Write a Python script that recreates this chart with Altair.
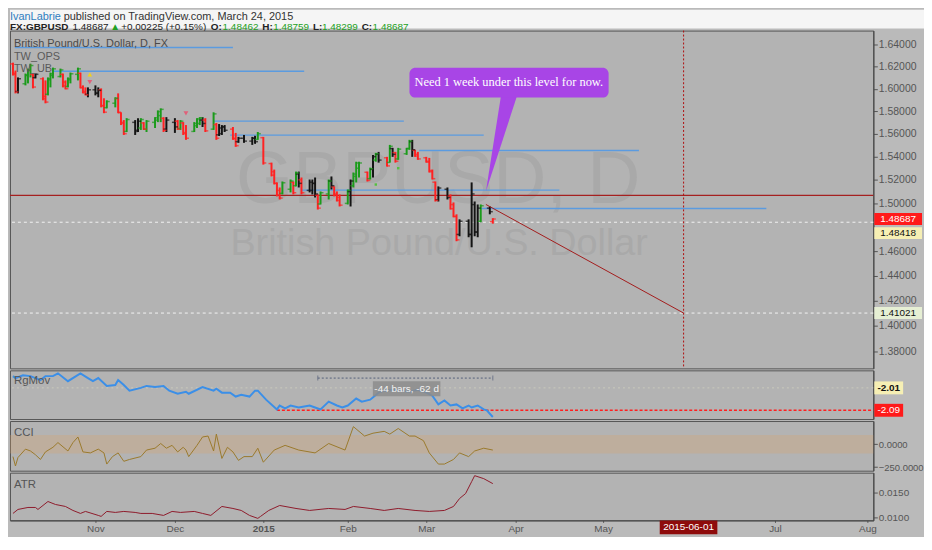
import altair as alt
import pandas as pd

FONT = "Liberation Sans"
W = 869
H_HEAD, H_MAIN, H_RG, H_CCI, H_ATR = 19, 340, 49, 50, 48
INK = "#4f4f4f"

# ---------------- daily OHLC bars, FX:GBPUSD ----------------
bar_kind = ("RRKGGGRKRR" "GGGGRRGGGR" "RRKKKRRGGR" "RRGKKGRGGG" "GRKKRGRRGG" "GKRGRK"
            "KKRRKKKKGR" "RRRRGGRGKRK" "KKRGGKRRRGKGGGR" "GKGKRGKRGGGKRRRRRRKKRRRKKKKKGKR")
bar_high = [
    1.6236, 1.6164, 1.6102, 1.6137, 1.6182, 1.6227, 1.6137, 1.6137, 1.6102, 1.6075,
    1.6102, 1.6146, 1.6191, 1.6182, 1.6137, 1.6075, 1.6102, 1.6146, 1.6191, 1.6146,
    1.6030, 1.6012, 1.6012, 1.6030, 1.6012, 1.6003, 1.5914, 1.5896, 1.5923, 1.5958,
    1.5789, 1.5720, 1.5737, 1.5720, 1.5737, 1.5737, 1.5702, 1.5720, 1.5746, 1.5806,
    1.5824, 1.5746, 1.5746, 1.5737, 1.5720, 1.5720, 1.5702, 1.5676, 1.5702, 1.5737,
    1.5746, 1.5746, 1.5737, 1.5789, 1.5694, 1.5685,
    1.5676, 1.5676, 1.5659, 1.5607, 1.5572, 1.5589, 1.5572, 1.5581, 1.5615, 1.5572,
    1.5348, 1.5288, 1.5178, 1.5135, 1.5186, 1.5203, 1.5186, 1.5271, 1.5271, 1.5220, 1.5203,
    1.5203, 1.5220, 1.5076, 1.5101, 1.5203, 1.5229, 1.5144, 1.5101, 1.5076, 1.5118, 1.5203, 1.5263, 1.5356, 1.5356, 1.5271,
    1.5305, 1.5415, 1.5433, 1.5441, 1.5398, 1.5502, 1.5476, 1.5441, 1.5476, 1.5476,
    1.5546, 1.5546, 1.5459, 1.5441, 1.5398, 1.5389, 1.5288, 1.5186, 1.5144, 1.5135,
    1.5076, 1.5008, 1.4908, 1.4866, 1.4866, 1.5178, 1.5016, 1.4991, 1.4991, 1.4974, 1.48759,
]
bar_low = [
    1.6119, 1.5958, 1.5958, 1.6030, 1.6048, 1.6102, 1.6003, 1.6093, 1.5896, 1.5869,
    1.5940, 1.6012, 1.6093, 1.6102, 1.6012, 1.5994, 1.6012, 1.6048, 1.6075, 1.6003,
    1.5958, 1.5940, 1.5923, 1.5940, 1.5923, 1.5833, 1.5781, 1.5824, 1.5833, 1.5781,
    1.5676, 1.5589, 1.5615, 1.5589, 1.5615, 1.5633, 1.5633, 1.5615, 1.5650, 1.5702,
    1.5702, 1.5615, 1.5615, 1.5607, 1.5633, 1.5633, 1.5589, 1.5546, 1.5615, 1.5650,
    1.5676, 1.5659, 1.5615, 1.5633, 1.5546, 1.5580,
    1.5589, 1.5615, 1.5546, 1.5485, 1.5520, 1.5520, 1.5502, 1.5511, 1.5546, 1.5331,
    1.5229, 1.5161, 1.5059, 1.5033, 1.5076, 1.5093, 1.5076, 1.5144, 1.5135, 1.5076, 1.5093,
    1.5076, 1.5050, 1.4948, 1.4991, 1.5033, 1.5118, 1.5059, 1.5016, 1.4974, 1.4991, 1.4974, 1.5135, 1.5178, 1.5220, 1.5186,
    1.5203, 1.5220, 1.5356, 1.5348, 1.5314, 1.5348, 1.5398, 1.5348, 1.5372, 1.5415,
    1.5459, 1.5398, 1.5398, 1.5372, 1.5348, 1.5263, 1.5203, 1.5016, 1.5016, 1.5033,
    1.4948, 1.4883, 1.4684, 1.4725, 1.4717, 1.4634, 1.4725, 1.4717, 1.4842, 1.4908, 1.48299,
]
bar_open = [
    1.6225, 1.6140, 1.5975, 1.6045, 1.6120, 1.6165, 1.6128, 1.6100, 1.6090, 1.5930,
    1.5950, 1.6080, 1.6120, 1.6110, 1.6130, 1.6060, 1.6020, 1.6080, 1.6130, 1.6140,
    1.6010, 1.5975, 1.5950, 1.5990, 1.5960, 1.5990, 1.5850, 1.5830, 1.5870, 1.5910,
    1.5785, 1.5700, 1.5620, 1.5700, 1.5630, 1.5650, 1.5695, 1.5640, 1.5700, 1.5720,
    1.5760, 1.5735, 1.5640, 1.5700, 1.5710, 1.5645, 1.5695, 1.5610, 1.5620, 1.5670,
    1.5690, 1.5720, 1.5720, 1.5640, 1.5680, 1.5590,
    1.5600, 1.5660, 1.5640, 1.5560, 1.5530, 1.5560, 1.5535, 1.5560, 1.5550, 1.5565,
    1.5340, 1.5270, 1.5170, 1.5110, 1.5085, 1.5120, 1.5180, 1.5150, 1.5250, 1.5200, 1.5110,
    1.5110, 1.5170, 1.5070, 1.4995, 1.5080, 1.5190, 1.5140, 1.5080, 1.5050, 1.5000, 1.5100, 1.5150, 1.5230, 1.5300, 1.5265,
    1.5210, 1.5290, 1.5370, 1.5420, 1.5390, 1.5350, 1.5470, 1.5435, 1.5380, 1.5425,
    1.5470, 1.5530, 1.5455, 1.5420, 1.5390, 1.5360, 1.5280, 1.5180, 1.5030, 1.5120,
    1.5060, 1.4990, 1.4890, 1.4740, 1.4850, 1.4740, 1.4990, 1.4760, 1.4850, 1.4960, 1.48462,
]
bar_close = [
    1.6130, 1.5970, 1.6090, 1.6125, 1.6170, 1.6210, 1.6015, 1.6130, 1.5910, 1.5880,
    1.6090, 1.6135, 1.6180, 1.6170, 1.6025, 1.6000, 1.6090, 1.6135, 1.6180, 1.6010,
    1.5965, 1.5945, 1.5990, 1.5960, 1.5985, 1.5845, 1.5790, 1.5885, 1.5915, 1.5790,
    1.5690, 1.5600, 1.5725, 1.5620, 1.5710, 1.5725, 1.5640, 1.5710, 1.5740, 1.5795,
    1.5815, 1.5630, 1.5720, 1.5660, 1.5640, 1.5710, 1.5600, 1.5560, 1.5690, 1.5730,
    1.5740, 1.5690, 1.5625, 1.5775, 1.5560, 1.5650,
    1.5660, 1.5630, 1.5555, 1.5495, 1.5560, 1.5535, 1.5560, 1.5530, 1.5600, 1.5345,
    1.5240, 1.5170, 1.5070, 1.5045, 1.5175, 1.5190, 1.5090, 1.5260, 1.5170, 1.5090, 1.5180,
    1.5170, 1.5080, 1.4960, 1.5090, 1.5190, 1.5150, 1.5070, 1.5025, 1.4985, 1.5110, 1.5190, 1.5250, 1.5345, 1.5345, 1.5195,
    1.5295, 1.5400, 1.5425, 1.5370, 1.5320, 1.5490, 1.5420, 1.5360, 1.5465, 1.5470,
    1.5535, 1.5460, 1.5405, 1.5380, 1.5352, 1.5270, 1.5210, 1.5025, 1.5130, 1.5050,
    1.4955, 1.4890, 1.4695, 1.4850, 1.4740, 1.5080, 1.4760, 1.4960, 1.4980, 1.4930, 1.48687,
]
bar_dates = [d for d in pd.bdate_range("2014-10-01", "2015-03-24")
             if d.strftime("%m-%d") not in ("12-25", "01-01")]

# resistance / level lines (TW_UB)
level_start = ["2014-10-01 18:00", "2014-10-17", "2014-12-15", "2014-12-21", "2015-02-27 12:00", "2015-01-16", "2015-03-20"]
level_end = ["2014-12-22", "2015-01-17", "2015-02-22", "2015-03-21", "2015-05-14", "2015-04-16", "2015-06-28"]
level_price = [1.6375, 1.6158, 1.5711, 1.5587, 1.5453, 1.5112, 1.4957]

# ---------------- RgMov ----------------
rg_dates = ["2014-10-01", "2014-10-02", "2014-10-05", "2014-10-08", "2014-10-10", "2014-10-12", "2014-10-14",
            "2014-10-17", "2014-10-19", "2014-10-23", "2014-10-28", "2014-10-31", "2014-11-02",
            "2014-11-04", "2014-11-07", "2014-11-10", "2014-11-11", "2014-11-13", "2014-11-15", "2014-11-19",
            "2014-11-21", "2014-11-24", "2014-11-27", "2014-11-29",
            "2014-12-02", "2014-12-05", "2014-12-06", "2014-12-11", "2014-12-15", "2014-12-16", "2014-12-18",
            "2014-12-21", "2014-12-23", "2014-12-25", "2014-12-28", "2014-12-30", "2014-12-31",
            "2015-01-03", "2015-01-07", "2015-01-08", "2015-01-10", "2015-01-12", "2015-01-15", "2015-01-19",
            "2015-01-21", "2015-01-23", "2015-01-26", "2015-01-29", "2015-01-31", "2015-02-02",
            "2015-02-05", "2015-02-07", "2015-02-10", "2015-02-13", "2015-02-15", "2015-02-18", "2015-02-21",
            "2015-02-24", "2015-02-27", "2015-03-02", "2015-03-04",
            "2015-03-06", "2015-03-08", "2015-03-10", "2015-03-12", "2015-03-14", "2015-03-16", "2015-03-17",
            "2015-03-19", "2015-03-21", "2015-03-22", "2015-03-24"]
rg_values = [-1.968, -1.975, -1.965, -1.968, -1.975, -1.982, -1.968, -1.968, -1.958, -1.986, -1.958, -1.975, -1.986,
             -1.975, -2.003, -2.000, -1.982, -2.000, -2.020, -2.010, -2.003, -2.007, -2.003, -2.020,
             -2.031, -2.024, -2.031, -2.007, -2.020, -2.013, -2.027, -2.027, -2.041, -2.035, -2.041, -2.020, -2.020,
             -2.052, -2.087, -2.073, -2.083, -2.073, -2.080, -2.073, -2.080, -2.087, -2.059, -2.073, -2.080, -2.073,
             -2.048, -2.059, -2.052, -2.027, -2.020, -2.017, -2.020, -2.024, -2.017, -2.027, -2.038,
             -2.069, -2.055, -2.073, -2.069, -2.083, -2.073, -2.080, -2.073, -2.087, -2.090, -2.114]

# ---------------- CCI ----------------
cci_dates = ["2014-10-01", "2014-10-02", "2014-10-03", "2014-10-06", "2014-10-08", "2014-10-10", "2014-10-12",
             "2014-10-14", "2014-10-17", "2014-10-19", "2014-10-23", "2014-10-25", "2014-10-27", "2014-10-29",
             "2014-11-01", "2014-11-04", "2014-11-06", "2014-11-07", "2014-11-09", "2014-11-11", "2014-11-13",
             "2014-11-15", "2014-11-19", "2014-11-21", "2014-11-24", "2014-11-26", "2014-11-28", "2014-11-30",
             "2014-12-02", "2014-12-04", "2014-12-05", "2014-12-06", "2014-12-09", "2014-12-11", "2014-12-13",
             "2014-12-15", "2014-12-16", "2014-12-18", "2014-12-20", "2014-12-22", "2014-12-24", "2014-12-26",
             "2014-12-29", "2014-12-31", "2015-01-02", "2015-01-06", "2015-01-10", "2015-01-15", "2015-01-21",
             "2015-01-26", "2015-02-01", "2015-02-04", "2015-02-08", "2015-02-11", "2015-02-15", "2015-02-17",
             "2015-02-20", "2015-02-24", "2015-02-26", "2015-03-01", "2015-03-03", "2015-03-06", "2015-03-08",
             "2015-03-11", "2015-03-13", "2015-03-16", "2015-03-18", "2015-03-21", "2015-03-24"]
cci_values = [-135, -237, -145, -54, -74, -115, -166, -84, -34, 17, -74, 17, 78, -84, -95,
              -54, -95, -216, -135, -95, -186, -166, -135, -64, -44, 7, -44, -13,
              -84, -34, -64, -135, -13, 78, 88, -74, 109, -155, -34, -84, -176, -135, -135, -44,
              -196, -64, -13, -64, -95, 7, -64,
              190, 88, 119, 139, 109, 170, 88, 88, 38,
              -95, -216, -216, -166, -95, -135, -74, -44, -64]

# ---------------- ATR ----------------
atr_dates = ["2014-10-01", "2014-10-03", "2014-10-07", "2014-10-10", "2014-10-11", "2014-10-15", "2014-10-18",
             "2014-10-22", "2014-10-25", "2014-10-28", "2014-10-30",
             "2014-11-04", "2014-11-05", "2014-11-07", "2014-11-10", "2014-11-13", "2014-11-17", "2014-11-19",
             "2014-11-23", "2014-11-27", "2014-11-30",
             "2014-12-03", "2014-12-08", "2014-12-11", "2014-12-14", "2014-12-18", "2014-12-22", "2014-12-25",
             "2014-12-28", "2014-12-31", "2015-01-01",
             "2015-01-04", "2015-01-08", "2015-01-14", "2015-01-19", "2015-01-26", "2015-02-01",
             "2015-02-04", "2015-02-10", "2015-02-15", "2015-02-20", "2015-02-26",
             "2015-03-03", "2015-03-08", "2015-03-11", "2015-03-13", "2015-03-15", "2015-03-17", "2015-03-18",
             "2015-03-21", "2015-03-24"]
atr_values = [0.0108, 0.0116, 0.0120, 0.0120, 0.0116, 0.0132, 0.0126, 0.0122, 0.0114, 0.0108, 0.0112,
              0.0104, 0.0102, 0.0112, 0.0110, 0.0112, 0.0110, 0.0108, 0.0108, 0.0104, 0.0112,
              0.0110, 0.0112, 0.0108, 0.0104, 0.0122, 0.0118, 0.0114, 0.0104, 0.0098, 0.0102,
              0.0114, 0.0124, 0.0118, 0.0114, 0.0118, 0.0116,
              0.0122, 0.0118, 0.0114, 0.0118, 0.0114,
              0.0112, 0.0114, 0.0122, 0.0138, 0.0148, 0.0172, 0.0184, 0.0178, 0.0168]

# 1.48000 is hidden behind the price tags in the original, so it is not listed
PRICE_TICKS = [1.38, 1.40, 1.42, 1.44, 1.46, 1.50, 1.52, 1.54, 1.56, 1.58, 1.60, 1.62, 1.64]

# ---------------- time axis (days since 2014-09-30, bar-index style, piecewise) ----------------
DAY0 = "datetime(2014, 8, 30)"          # 2014-09-30 (month index 0-based)
# knots: Sep30, Oct1, Nov3, Dec1, Jan2, Feb2, Mar2, Mar24, Apr1, May1, Jun1, Jul1, Aug3, Aug5
KNOT_DAYS = [0, 1, 34, 62, 94, 125, 153, 175, 183, 213, 244, 274, 307, 309]
KNOT_PX = [0, 3, 86, 166, 255, 340, 419, 486, 509, 597, 683, 770, 863, 869]
MONTH_TICK_DAYS = [34, 62, 94, 125, 153, 183, 213, 274, 307]
XS = alt.Scale(domain=KNOT_DAYS, range=KNOT_PX, nice=False, zero=False)
DEXPR = "datetime(2014, 8, 30 + datum.value)"
XAXIS = alt.Axis(values=MONTH_TICK_DAYS, title=None, grid=False,
                 labelExpr=f"month({DEXPR}) == 0 ? timeFormat({DEXPR}, '%Y') : timeFormat({DEXPR}, '%b')",
                 labelFontWeight={"condition": {"test": "datum.value == 94", "value": "bold"}, "value": "normal"},
                 labelFont=FONT, labelFontSize=10, labelColor="#555555", tickColor="#555555",
                 domainColor="#444444", tickSize=2, labelPadding=1)


def raxis(values=None, fmt=None, show=True, size=10.5):
    kw = dict(orient="right", title=None, grid=False, labelFont=FONT, labelFontSize=size, labelColor="#555555",
              domainColor="#444444", tickColor="#555555", tickSize=4, labelPadding=1)
    if values is not None:
        kw["values"] = values
    if fmt:
        kw["format"] = fmt
    if not show:
        kw["labels"] = False
        kw["ticks"] = False
    return alt.Axis(**kw)


PS = alt.Scale(type="log", domain=[1.3670, 1.6532], nice=False)
PAX = raxis(PRICE_TICKS, ".5f")
RS = alt.Scale(domain=[-2.1213, -1.9474], nice=False, zero=False)
RAX = raxis(show=False)
CS = alt.Scale(domain=[-288, 251], nice=False, zero=False)
CAX = raxis([0, -250], ".4f", size=9.5)
AS = alt.Scale(domain=[0.0094, 0.0190], nice=False, zero=False)
AAX = raxis([0.01, 0.015], ".4f", size=10)


def C(df, *cols):
    """Chart whose date columns get a day-number twin '<col>_n'."""
    ch = alt.Chart(df)
    if cols:
        ch = ch.transform_calculate(**{c + "_n": f"(toDate(datum['{c}']) - {DAY0}) / 86400000" for c in cols})
    return ch


def X(col, axis=None):
    if axis is None:
        return alt.X(col + "_n:Q", scale=XS, axis=None, title=None)
    return alt.X(col + "_n:Q", scale=XS, axis=axis, title=None)


def Y(field, scale, axis):
    return alt.Y(field, scale=scale, axis=axis, title=None)


def ts(values):
    return [pd.Timestamp(v).strftime("%Y-%m-%dT%H:%M:%S") for v in values]


one = pd.DataFrame({"a": [0]})


def label(text, x, y, size=11, color=INK, weight="normal", font=FONT):
    return alt.Chart(one).mark_text(text=text, align="left", baseline="middle", fontSize=size, font=font,
                                    color=color, fontWeight=weight).encode(x=alt.value(x), y=alt.value(y))


def box_shape(w, h):
    k = h / float(w)
    return f"M-1,{-k:.3f}L1,{-k:.3f}L1,{k:.3f}L-1,{k:.3f}Z"


def axis_tag(value, text, fill, ink, yscale, yaxis, w, h, dy=0, weight="normal", size=10):
    d = pd.DataFrame({"v": [value], "t": [text]})
    xc = W + w / 2.0 + 1
    box = alt.Chart(d).mark_point(shape=box_shape(w, h), size=w * w, filled=True, opacity=1, color=fill,
                                  strokeWidth=0, yOffset=dy).encode(x=alt.value(xc), y=Y("v:Q", yscale, yaxis))
    txt = alt.Chart(d).mark_text(font=FONT, fontSize=size, color=ink, fontWeight=weight, yOffset=dy).encode(
        x=alt.value(xc), y=Y("v:Q", yscale, yaxis), text="t:N")
    return [box, txt]


# ---------------- header ----------------
GREEN = "#23a023"
DARK = "#222222"
header = alt.layer(
    label("IvanLabrie", 0, 7, 11, "#2f7dc0"),
    label("published on TradingView.com, March 24, 2015", 54, 7, 11, "#333333"),
    label("FX:GBPUSD", 0, 17.5, 10, DARK, "bold"),
    label("1.48687", 63, 17.5, 10, DARK),
    label("▲", 101, 17.5, 10, GREEN),
    label("+0.00225 (+0.15%)", 112, 17.5, 10, DARK),
    label("O:", 202, 17.5, 10, DARK, "bold"),
    label("1.48462", 214, 17.5, 10, GREEN),
    label("H:", 254, 17.5, 10, DARK, "bold"),
    label("1.48759", 265, 17.5, 10, GREEN),
    label("L:", 305, 17.5, 10, DARK, "bold"),
    label("1.48299", 314, 17.5, 10, GREEN),
    label("C:", 354, 17.5, 10, DARK, "bold"),
    label("1.48687", 365, 17.5, 10, GREEN),
).properties(width=920, height=H_HEAD, view=alt.ViewBackground(fill="#f5f5f5", strokeWidth=0))

# ---------------- main price panel ----------------
bars = pd.DataFrame({"date": ts(bar_dates), "open": bar_open, "high": bar_high, "low": bar_low,
                     "close": bar_close, "kind": list(bar_kind)})
KS = alt.Scale(domain=["G", "R", "K"], range=["#1b9b1b", "#ff2222", "#141414"])
kcol = alt.Color("kind:N", scale=KS, legend=None)

levels = pd.DataFrame({"s": ts(level_start), "e": ts(level_end), "p": level_price})
lvl = C(levels, "s", "e").mark_rule(color="#5b9be0", strokeWidth=1.4).encode(
    x=X("s"), x2="e_n:Q", y=Y("p:Q", PS, PAX))

hline = alt.Chart(pd.DataFrame({"p": [1.5067]})).mark_rule(color="#a52020", strokeWidth=1.2).encode(
    y=Y("p:Q", PS, PAX))
dashes = alt.Chart(pd.DataFrame({"p": [1.48418, 1.41021]})).mark_rule(
    color="#f2f2f2", strokeDash=[3, 3], strokeWidth=1).encode(y=Y("p:Q", PS, PAX))

hl = C(bars, "date").mark_rule(strokeWidth=2).encode(x=X("date"), y=Y("low:Q", PS, PAX), y2="high:Q", color=kcol)
op = C(bars, "date").mark_tick(orient="horizontal", size=3, thickness=1.5, xOffset=-1.5).encode(
    x=X("date"), y=Y("open:Q", PS, PAX), color=kcol)
cl = C(bars, "date").mark_tick(orient="horizontal", size=3, thickness=1.5, xOffset=1.5).encode(
    x=X("date"), y=Y("close:Q", PS, PAX), color=kcol)

diag = C(pd.DataFrame({"d": ts(["2015-03-21 17:00", "2015-05-30 05:00"]), "p": [1.4991, 1.41021]}), "d").mark_line(
    color="#a31c1c", strokeWidth=1).encode(x=X("d"), y=Y("p:Q", PS, PAX))
vline = C(pd.DataFrame({"d": ts(["2015-05-30 05:00"])}), "d").mark_rule(
    color="#b00d0d", strokeDash=[2, 2], strokeWidth=1).encode(x=X("d"))

PURPLE = "#a845e6"
callout = C(pd.DataFrame({"x": ts(["2015-02-24"]), "x2": ts(["2015-05-03"]), "y": [1.6190], "y2": [1.5920]}),
            "x", "x2").mark_rect(color=PURPLE, cornerRadius=6).encode(
    x=X("x"), x2="x2_n:Q", y=Y("y:Q", PS, PAX), y2="y2:Q")
tail = C(pd.DataFrame({"p": [1.5925, 1.5101],
                       "l": ts(["2015-03-26 19:00", "2015-03-21 17:00"]),
                       "r": ts(["2015-04-01 08:00", "2015-03-21 17:00"])}), "l", "r").mark_area(
    orient="horizontal", color=PURPLE).encode(y=Y("p:Q", PS, PAX), x=X("l"), x2="r_n:Q")
callout_txt = C(pd.DataFrame({"x": ts(["2015-03-29 14:00"]), "y": [1.6057],
                              "t": ["Need 1 week under this level for now."]}), "x").mark_text(
    color="white", font="Liberation Serif", fontSize=12.5).encode(x=X("x"), y=Y("y:Q", PS, PAX), text="t:N")

sig_up = C(pd.DataFrame({"d": ts(["2014-10-31 18:00"]), "p": [1.6128]}), "d").mark_point(
    shape="triangle-up", size=22, filled=True, opacity=1, color="#f2d21a").encode(x=X("d"), y=Y("p:Q", PS, PAX))
sig_dn = C(pd.DataFrame({"d": ts(["2014-10-31 18:00", "2014-12-05"]), "p": [1.6059, 1.5780]}), "d").mark_point(
    shape="triangle-down", size=24, filled=True, opacity=1, color="#e0607a").encode(x=X("d"), y=Y("p:Q", PS, PAX))
sig_g = C(pd.DataFrame({"d": ts(["2015-02-12", "2015-02-20"]), "p": [1.5160, 1.5300]}), "d").mark_point(
    shape="square", size=6, filled=True, opacity=1, color="#55c040").encode(x=X("d"), y=Y("p:Q", PS, PAX))

wm1 = alt.Chart(one).mark_text(text="GBPUSD, D", fontSize=74, font=FONT, color="#a9a9a9", align="center",
                               baseline="middle").encode(x=alt.value(431), y=alt.value(152))
wm2 = alt.Chart(one).mark_text(text="British Pound/U.S. Dollar", fontSize=38, font=FONT, color="#a9a9a9",
                               align="center", baseline="middle").encode(x=alt.value(432), y=alt.value(215))

main_layers = [wm1, wm2, lvl, hline, dashes, hl, op, cl, diag, vline, tail, callout, callout_txt,
               sig_up, sig_dn, sig_g,
               label("British Pound/U.S. Dollar, D, FX", 4, 14, 11, "#4a4a4a"),
               label("TW_OPS", 4, 27, 11, "#5a5a5a"),
               label("TW_UB", 4, 39, 11, "#5a5a5a")]
main_layers += axis_tag(1.48687, "1.48687", "#ff1a1a", "white", PS, PAX, 48, 12)
main_layers += axis_tag(1.48418, "1.48418", "#f6efb4", "#111111", PS, PAX, 48, 12, dy=11)
main_layers += axis_tag(1.41021, "1.41021", "#e6efd4", "#111111", PS, PAX, 48, 12)
main = alt.layer(*main_layers).properties(width=W, height=H_MAIN)

# ---------------- RgMov panel ----------------
rg = pd.DataFrame({"d": ts(rg_dates), "v": rg_values})
rg_line = C(rg, "d").mark_line(color="#3b8fe8", strokeWidth=2).encode(x=X("d"), y=Y("v:Q", RS, RAX))
rg_faint = alt.Chart(pd.DataFrame({"v": [-2.01]})).mark_rule(color="#d4d4c0", strokeDash=[2, 3], opacity=0.7).encode(
    y=Y("v:Q", RS, RAX))
rg_red = C(pd.DataFrame({"s": ts(["2015-01-07"]), "e": ts(["2015-08-05"]), "v": [-2.09]}), "s", "e").mark_rule(
    color="#ff2020", strokeDash=[3, 2], strokeWidth=1.6).encode(x=X("s"), x2="e_n:Q", y=Y("v:Q", RS, RAX))
meas = pd.DataFrame({"s": ts(["2015-01-22"]), "e": ts(["2015-03-24"]), "v": [-1.975]})
meas_line = C(meas, "s", "e").mark_rule(color="#55607a", strokeDash=[2, 2], strokeWidth=1).encode(
    x=X("s"), x2="e_n:Q", y=Y("v:Q", RS, RAX))
meas_ends = C(pd.DataFrame({"d": ts(["2015-01-22", "2015-03-24"]), "v": [-1.975, -1.975]}), "d").mark_tick(
    orient="vertical", size=5, thickness=1, color="#55607a").encode(x=X("d"), y=Y("v:Q", RS, RAX))
meas_lab = pd.DataFrame({"d": ts(["2015-02-23"]), "v": [-2.013], "t": ["-44 bars, -62 d"]})
meas_box = C(meas_lab, "d").mark_point(shape=box_shape(68, 15), size=68 * 68, filled=True, opacity=0.85,
                                       color="#8c8c8c", strokeWidth=0).encode(x=X("d"), y=Y("v:Q", RS, RAX))
meas_txt = C(meas_lab, "d").mark_text(font=FONT, fontSize=10, color="#f2f2f2").encode(
    x=X("d"), y=Y("v:Q", RS, RAX), text="t:N")
rg_layers = [rg_faint, rg_red, meas_line, meas_ends, rg_line, meas_box, meas_txt,
             label("RgMov", 4, 11, 11.5, "#555555")]
rg_layers += axis_tag(-2.01, "-2.01", "#f6efb4", "#111111", RS, RAX, 29, 13, weight="bold")
rg_layers += axis_tag(-2.09, "-2.09", "#ff1a1a", "white", RS, RAX, 29, 13)
rgp = alt.layer(*rg_layers).properties(width=W, height=H_RG)

# ---------------- CCI panel ----------------
cci = pd.DataFrame({"d": ts(cci_dates), "v": cci_values})
band = alt.Chart(pd.DataFrame({"a": [100], "b": [-100]})).mark_rect(color="#dca063", opacity=0.28).encode(
    x=alt.value(0), x2=alt.value(W), y=Y("a:Q", CS, CAX), y2="b:Q")
cci_line = C(cci, "d").mark_line(color="#9a7a2c", strokeWidth=1).encode(x=X("d"), y=Y("v:Q", CS, CAX))
ccip = alt.layer(band, cci_line, label("CCI", 4, 12, 11.5, "#555555")).properties(width=W, height=H_CCI)

# ---------------- ATR panel ----------------
atr = pd.DataFrame({"d": ts(atr_dates), "v": atr_values})
atr_line = C(atr, "d").mark_line(color="#8e1b2b", strokeWidth=1).encode(x=X("d", XAXIS), y=Y("v:Q", AS, AAX))
dtag = pd.DataFrame({"d": ts(["2015-06-01"]), "t": ["2015-06-01"]})
dtag_box = C(dtag, "d").mark_point(shape=box_shape(58, 14), size=58 * 58, filled=True, opacity=1,
                                   color="#8e0b0b", strokeWidth=0).encode(x=X("d", XAXIS), y=alt.value(H_ATR + 7))
dtag_txt = C(dtag, "d").mark_text(font=FONT, fontSize=10, color="white").encode(
    x=X("d", XAXIS), y=alt.value(H_ATR + 7), text="t:N")
atrp = alt.layer(atr_line, dtag_box, dtag_txt, label("ATR", 4, 12, 11.5, "#555555")).properties(width=W, height=H_ATR)

chart = alt.vconcat(header, main, rgp, ccip, atrp, spacing=2, bounds="flush").properties(
    background="#bababa", padding={"left": 0, "top": 0, "right": 0, "bottom": 0}
).configure_view(fill="#b3b3b3", stroke="#555555", strokeWidth=1)

chart.save("out.html", embed_options={"renderer": "svg", "actions": False})
